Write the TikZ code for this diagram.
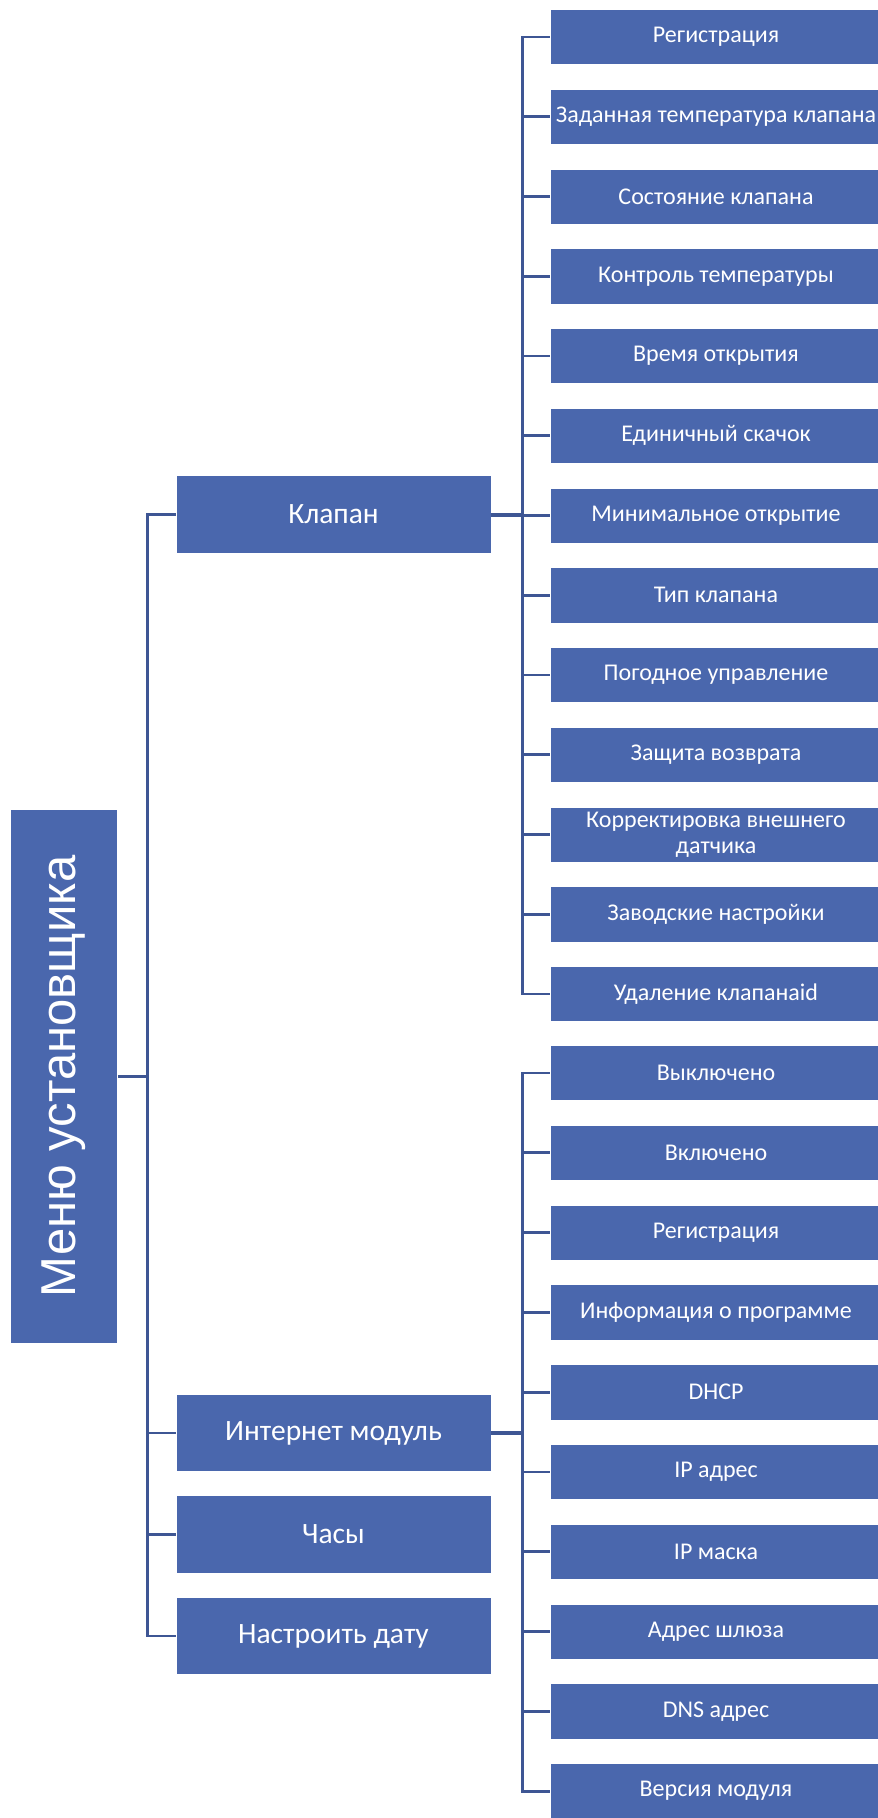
\documentclass[tikz,border=0pt]{standalone}
\usepackage{fontspec}
\setmainfont{Carlito}
\newfontfamily\rootfont{Liberation Sans}
\definecolor{boxblue}{HTML}{4A67AD}
\definecolor{lineblue}{HTML}{3E5694}

\begin{document}
\begin{tikzpicture}[x=1pt, y=-1pt]
    \tikzstyle{leaf}=[draw=white, line width=0.6pt, fill=boxblue, text=white, minimum width=332pt, minimum height=55.4pt, inner sep=0pt, align=center, font=\fontsize{24}{26}\selectfont]
    \tikzstyle{menu}=[leaf, minimum width=315pt, minimum height=77.5pt, font=\fontsize{29.5}{34}\selectfont]
    \tikzstyle{branch}=[draw=lineblue, line width=2.7pt]
    \tikzstyle{stem}=[draw=lineblue, line width=4pt]
    \useasboundingbox (0,0) rectangle (878,1818);

    % draw boxes
    \node [leaf, minimum width=107pt, minimum height=534.6pt, font=\rootfont\fontsize{49}{56}\selectfont] (root) at (64,1076.3) {\rotatebox{90}{Меню установщика}};

    \foreach \m/\l/\p in {valve/Клапан/514.5, net/Интернет модуль/1433, clock/Часы/1534.5, date/Настроить дату/1636}
    \node [menu] (menu-\m) at (333.5,\p) {\l};

    \foreach \l [count=\y] in {Регистрация, Заданная температура клапана, Состояние клапана, Контроль температуры, Время открытия, Единичный скачок, Минимальное открытие, Тип клапана, Погодное управление, Защита возврата, {Корректировка внешнего\\датчика}, Заводские настройки, Удаление клапанаid}
    \node [leaf] (valve-\y) at (716,-42.75+\y*79.75) {\l};

    \foreach \l [count=\y] in {Выключено, Включено, Регистрация, Информация о программе, DHCP, IP адрес, IP маска, Адрес шлюза, DNS адрес, Версия модуля}
    \node [leaf] (net-\y) at (716,993.2+\y*79.8) {\l};

    % draw lines
    \coordinate (root-fork) at ([xshift=29.4pt]root.east);
    \coordinate (valve-fork) at ([xshift=31pt]menu-valve.east);
    \coordinate (net-fork) at ([xshift=31pt]menu-net.east);

    \draw [branch] (root.east) -- (root-fork);
    \foreach \m in {valve, net, clock, date}
    \draw [branch] (root-fork) |- (menu-\m.west);

    \draw [stem] (menu-valve.east) -- (valve-fork);
    \foreach \i in {1,...,13}
    \draw [branch] (valve-fork) |- (valve-\i.west);

    \draw [stem] (menu-net.east) -- (net-fork);
    \foreach \i in {1,...,10}
    \draw [branch] (net-fork) |- (net-\i.west);
\end{tikzpicture}
\end{document}
